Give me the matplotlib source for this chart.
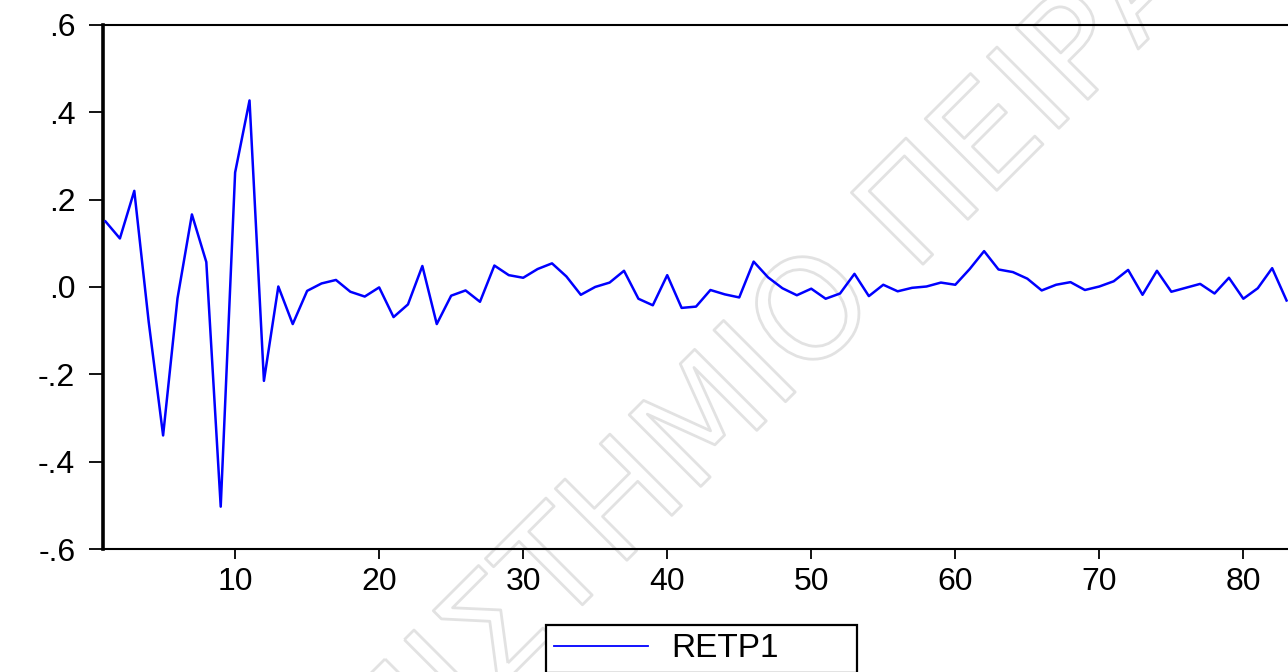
import matplotlib
matplotlib.use("Agg")
import matplotlib.pyplot as plt
import matplotlib.patheffects as pe

# RETP1 series, observations 1..83
obs = list(range(1, 84))
retp1 = [0.150, 0.111, 0.220, -0.080, -0.340, -0.026, 0.166, 0.057, -0.503, 0.262,
         0.427, -0.215, 0.001, -0.085, -0.009, 0.008, 0.016, -0.011, -0.022, -0.001,
         -0.069, -0.040, 0.048, -0.085, -0.020, -0.008, -0.034, 0.049, 0.027, 0.021,
         0.041, 0.054, 0.024, -0.018, 0.000, 0.010, 0.037, -0.027, -0.042, 0.027,
         -0.048, -0.045, -0.007, -0.017, -0.024, 0.058, 0.022, -0.003, -0.019, -0.004,
         -0.027, -0.015, 0.030, -0.021, 0.005, -0.010, -0.002, 0.001, 0.010, 0.005,
         0.041, 0.082, 0.040, 0.034, 0.019, -0.008, 0.005, 0.011, -0.007, 0.001,
         0.013, 0.039, -0.018, 0.037, -0.011, -0.002, 0.007, -0.015, 0.021, -0.027,
         -0.003, 0.043, -0.031]

yticks = [-0.6, -0.4, -0.2, 0.0, 0.2, 0.4, 0.6]
ytick_labels = ["-.6", "-.4", "-.2", ".0", ".2", ".4", ".6"]
xticks = [10, 20, 30, 40, 50, 60, 70, 80]

plt.rcParams["font.family"] = ["Liberation Sans", "DejaVu Sans"]

fig = plt.figure(figsize=(12.88, 6.72), dpi=100)
ax = fig.add_axes([0.080, 0.183, 0.920, 0.780])
ax.set_facecolor("none")

# faint watermark behind everything (outline only)
wm = fig.text(0.556, 0.38, "ΠΑΝΕΠΙΣΤΗΜΙΟ ΠΕΙΡΑΙΩΣ", family="DejaVu Sans",
              fontsize=100, rotation=45, ha="center", va="center",
              color=(1, 1, 1, 0), zorder=-1)
wm.set_path_effects([pe.Stroke(linewidth=2.0, foreground="#e2e2e2"), pe.Normal()])

ax.plot(obs, retp1, color="#0000ff", lw=1.8, label="RETP1", zorder=3)

ax.set_xlim(0.83, 83.1)
ax.set_ylim(-0.6, 0.6)
ax.set_yticks(yticks)
ax.set_yticklabels(ytick_labels)
ax.set_xticks(xticks)

ax.spines["right"].set_visible(False)
ax.spines["left"].set_linewidth(2.6)
ax.spines["bottom"].set_linewidth(1.5)
ax.spines["top"].set_linewidth(1.5)
ax.tick_params(axis="y", direction="out", length=10, width=1.3, pad=10, labelsize=23)
ax.tick_params(axis="x", direction="out", length=7, width=1.3, pad=6, labelsize=23)

leg = fig.legend(loc="upper left", bbox_to_anchor=(0.424, 0.0, 0.2415, 0.0699),
                 mode="expand", borderaxespad=0, fontsize=24, handlelength=2.8,
                 fancybox=False, framealpha=1, edgecolor="black",
                 borderpad=0.25, handletextpad=0.7)
leg.get_frame().set_linewidth(1.6)
for h in leg.get_lines():
    h.set_linewidth(1.3)

fig.savefig("out.png", dpi=100)
